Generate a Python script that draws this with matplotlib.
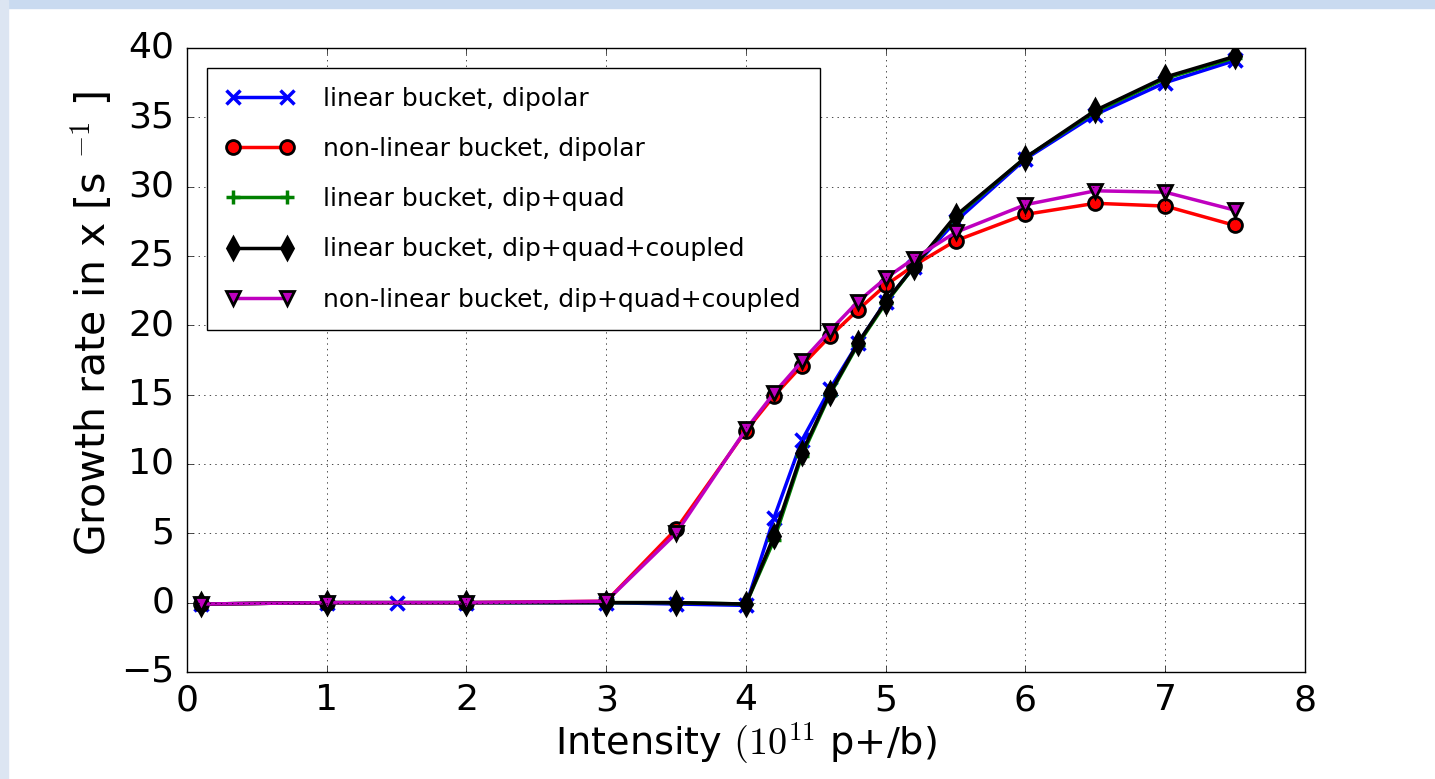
import matplotlib
matplotlib.use('Agg')
import matplotlib.pyplot as plt
from matplotlib.patches import Rectangle

# intensity (1e11 p+/b)
x_lin_dip = [0.1, 1, 1.5, 2, 3, 3.5, 4, 4.2, 4.4, 4.6, 4.8, 5, 5.2, 5.5, 6, 6.5, 7, 7.5]
x_common = [0.1, 1, 2, 3, 3.5, 4, 4.2, 4.4, 4.6, 4.8, 5, 5.2, 5.5, 6, 6.5, 7, 7.5]

# growth rates [1/s]
lin_dip = [-0.1, 0.0, 0.0, 0.0, 0.0, -0.1, -0.2, 6.1, 11.7, 15.4, 18.7, 21.7, 24.2, 27.5, 32.0, 35.2, 37.5, 39.1]
nonlin_dip = [-0.1, 0.0, 0.0, 0.1, 5.3, 12.4, 14.9, 17.1, 19.2, 21.1, 22.9, 24.3, 26.1, 28.0, 28.8, 28.6, 27.2]
lin_dipquad = [-0.1, 0.0, 0.0, 0.0, 0.0, -0.1, 4.5, 10.6, 15.0, 18.6, 21.6, 24.2, 27.8, 32.1, 35.4, 37.8, 39.3]
lin_coupled = [-0.1, 0.0, 0.0, 0.0, 0.0, -0.1, 4.8, 10.8, 15.1, 18.7, 21.7, 24.2, 27.9, 32.1, 35.5, 37.9, 39.4]
nonlin_coupled = [-0.1, 0.0, 0.0, 0.1, 5.0, 12.5, 15.1, 17.4, 19.6, 21.7, 23.4, 24.8, 26.7, 28.7, 29.7, 29.6, 28.3]

labels = ['linear bucket, dipolar', 'non-linear bucket, dipolar', 'linear bucket, dip+quad',
          'linear bucket, dip+quad+coupled', 'non-linear bucket, dip+quad+coupled']

plt.style.use('classic')
plt.rcParams['font.family'] = ['DejaVu Sans']
plt.rcParams['mathtext.fontset'] = 'cm'

fig = plt.figure(figsize=(14.35, 7.79), dpi=100, facecolor='white')
# light blue page border seen in the screenshot
fig.patches.append(Rectangle((0, 0.99), 1, 0.01, transform=fig.transFigure, color='#c9daf0', zorder=-1))
fig.patches.append(Rectangle((0, 0), 0.0056, 1, transform=fig.transFigure, color='#dce5f2', zorder=-1))

ax = fig.add_axes([0.1303, 0.1374, 0.7791, 0.8010])

ax.plot(x_lin_dip, lin_dip, 'b-', marker='x', lw=2.5, ms=10, mew=2.5, label=labels[0])
ax.plot(x_common, nonlin_dip, 'r-', marker='o', lw=2.5, ms=10, mew=2, mec='k', label=labels[1])
ax.plot(x_common, lin_dipquad, 'g-', marker='+', lw=2.5, ms=10, mew=2.5, label=labels[2])
ax.plot(x_common, lin_coupled, 'k-', marker='d', lw=2.5, ms=11, mew=2, label=labels[3])
ax.plot(x_common, nonlin_coupled, 'm-', marker='v', lw=2.5, ms=10, mew=2, mec='k', label=labels[4])

ax.set_xlim(0, 8)
ax.set_ylim(-5, 40)
ax.grid(True)
ax.tick_params(labelsize=26)
ax.tick_params(axis='x', pad=8)
ax.tick_params(axis='y', pad=9)
ax.set_xlabel(r'Intensity $(10^{11}$ p+/b)', fontsize=27.5, labelpad=2)
ax.set_ylabel(r'Growth rate in x [s $^{-1}$ ]', fontsize=29.5)
ax.yaxis.set_label_coords(-0.0645, 0.559)

leg = ax.legend(loc='upper left', fontsize=18, numpoints=2, handlelength=2.75,
                labelspacing=1.05, borderpad=0.75, handletextpad=1.15, borderaxespad=0.8)
leg.get_frame().set_linewidth(1.0)

plt.savefig('out.png', dpi=100, facecolor=fig.get_facecolor())
